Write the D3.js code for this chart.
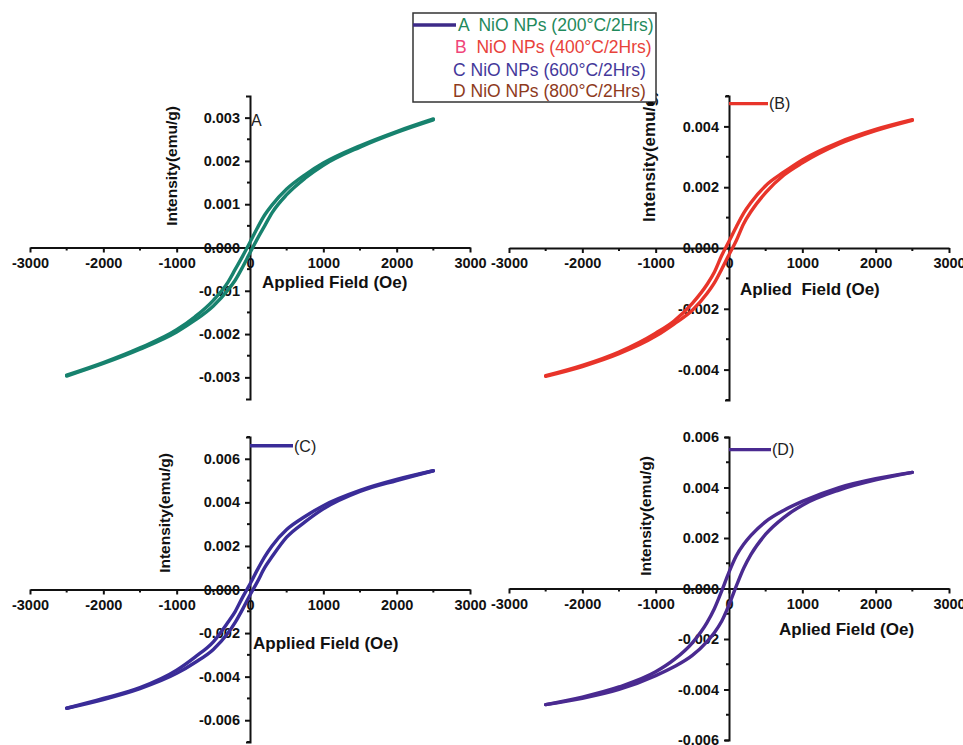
<!DOCTYPE html>
<html lang="en">
  <head>
    <meta charset="utf-8" />
    <title>NiO NPs hysteresis loops</title>
    <script src="https://d3js.org/d3.v7.min.js"></script>
    <style>
      body { margin: 0; background: #fff; }
      svg { display: block; font-family: Arial, "Liberation Sans", sans-serif; }
      .tick text { font-weight: bold; font-size: 14.5px; fill: #111; }
      .axis path, .axis line { stroke: #111; stroke-width: 2; }
      .title { font-weight: bold; font-size: 17px; fill: #111; }
      .ytitle { font-weight: bold; font-size: 15.5px; fill: #111; }
    </style>
  </head>
  <body>
    <div id="chart"></div>
    <script>
      // applied field (Oe), same grid for every sample
      const fieldOe = [-2500, -2000, -1500, -1000, -750, -500, -300, -200, -100, 0,
        100, 200, 300, 500, 750, 1000, 1500, 2000, 2500];

      // magnetisation (emu/g): upper = descending branch, lower = ascending branch
      const upperA = [-0.00295, -0.00266, -0.00232, -0.0019, -0.0016, -0.00122, -0.0008, -0.0005, -0.0002, 0.00012,
        0.00045, 0.00075, 0.00098, 0.00135, 0.00168, 0.00195, 0.00235, 0.00268, 0.00297];
      const lowerA = [-0.00297, -0.00268, -0.00235, -0.00195, -0.00168, -0.00135, -0.00098, -0.00075, -0.00045, -0.00012,
        0.0002, 0.0005, 0.0008, 0.00122, 0.0016, 0.0019, 0.00232, 0.00266, 0.00295];

      const upperB = [-0.0042, -0.00386, -0.00342, -0.0028, -0.0024, -0.00182, -0.0012, -0.0008, -0.00025, 0.00022,
        0.0007, 0.00115, 0.0015, 0.00205, 0.0025, 0.0029, 0.00348, 0.0039, 0.00422];
      const lowerB = [-0.00422, -0.0039, -0.00348, -0.0029, -0.0025, -0.00205, -0.0015, -0.00115, -0.0007, -0.00022,
        0.00025, 0.0008, 0.0012, 0.00182, 0.0024, 0.0028, 0.00342, 0.00386, 0.0042];

      const upperC = [-0.00545, -0.005, -0.0045, -0.0037, -0.0031, -0.0024, -0.0015, -0.001, -0.00035, 0.00025,
        0.0009, 0.0015, 0.002, 0.00275, 0.00335, 0.00385, 0.00455, 0.00505, 0.00545];
      const lowerC = [-0.00545, -0.00505, -0.00455, -0.00385, -0.00335, -0.00275, -0.002, -0.0015, -0.0009, -0.00025,
        0.00035, 0.001, 0.0015, 0.0024, 0.0031, 0.0037, 0.0045, 0.005, 0.00545];

      const upperD = [-0.0046, -0.0043, -0.0039, -0.0033, -0.00282, -0.00215, -0.00135, -0.0008, -0.0001, 0.00065,
        0.0013, 0.00175, 0.0021, 0.00265, 0.0031, 0.00345, 0.004, 0.00435, 0.0046];
      const lowerD = [-0.0046, -0.00435, -0.004, -0.00345, -0.0031, -0.00265, -0.0021, -0.00175, -0.0013, -0.00065,
        0.0001, 0.0008, 0.00135, 0.00215, 0.00282, 0.0033, 0.0039, 0.0043, 0.0046];

      // axis ticks
      const xTicks = [-3000, -2000, -1000, 0, 1000, 2000, 3000];
      const xMinor = [-2500, -1500, -500, 500, 1500, 2500];
      const yTicksA = [-0.003, -0.002, -0.001, 0, 0.001, 0.002, 0.003];
      const yMinorA = [-0.0025, -0.0015, -0.0005, 0.0005, 0.0015, 0.0025];
      const yTicksB = [-0.004, -0.002, 0, 0.002, 0.004];
      const yMinorB = [-0.005, -0.003, -0.001, 0.001, 0.003, 0.005];
      const yTicksC = [-0.006, -0.004, -0.002, 0, 0.002, 0.004, 0.006];
      const yMinorC = [-0.007, -0.005, -0.003, -0.001, 0.001, 0.003, 0.005, 0.007];
      const yTicksD = [-0.006, -0.004, -0.002, 0, 0.002, 0.004, 0.006];
      const yMinorD = [-0.005, -0.003, -0.001, 0.001, 0.003, 0.005];

      const legendItems = [
        { key: "A", rest: "  NiO NPs (200\u00B0C/2Hrs)", keyColor: "#1f8a5c", color: "#1f8a5c" },
        { key: "B", rest: "  NiO NPs (400\u00B0C/2Hrs)", keyColor: "#f0457a", color: "#e8423a" },
        { key: "C", rest: " NiO NPs (600\u00B0C/2Hrs)", keyColor: "#44389a", color: "#44389a" },
        { key: "D", rest: " NiO NPs (800\u00B0C/2Hrs)", keyColor: "#8e3a1c", color: "#8e3a1c" }
      ];

      const W = 963, H = 745;
      const svg = d3.select("#chart").append("svg")
        .attr("width", W).attr("height", H);

      svg.append("defs").append("clipPath").attr("id", "clipB")
        .append("rect").attr("x", 480).attr("y", 92).attr("width", 483).attr("height", 400);

      const panels = [
        { upper: upperA, lower: lowerA, color: "#17826e", xr: [30, 470], ymax: 0.0035, yr: [399, 96],
          ticks: yTicksA, minor: yMinorA, xt: "Applied Field (Oe)", xtPos: [262, 288],
          ytPos: [177, 166], tag: "A", tagPos: [251, 126], sample: null },
        { upper: upperB, lower: lowerB, color: "#e8342a", xr: [509, 949], ymax: 0.005, yr: [400, 96],
          ticks: yTicksB, minor: yMinorB, xt: "Aplied  Field (Oe)", xtPos: [740, 295],
          ytPos: [655, null], ytBottom: 222, tag: "(B)", tagPos: [768, 109], sample: 0.00475, clip: "clipB" },
        { upper: upperC, lower: lowerC, color: "#3a2c98", xr: [30, 470], ymax: 0.007, yr: [742, 437],
          ticks: yTicksC, minor: yMinorC, xt: "Applied Field (Oe)", xtPos: [253, 649],
          ytPos: [170, 513], tag: "(C)", tagPos: [293, 452], sample: 0.0066 },
        { upper: upperD, lower: lowerD, color: "#4a2a90", xr: [509, 949], ymax: 0.006, yr: [740, 437],
          ticks: yTicksD, minor: yMinorD, xt: "Aplied Field (Oe)", xtPos: [779, 635],
          ytPos: [651, 516], tag: "(D)", tagPos: [771, 455], sample: 0.0055 }
      ];

      const yFmt = d => (Math.abs(d) < 1e-12 ? 0 : d).toFixed(3);

      panels.forEach(p => {
        const g = svg.append("g");
        if (p.clip) g.attr("clip-path", `url(#${p.clip})`);

        const x = d3.scaleLinear().domain([-3000, 3000]).range(p.xr);
        const y = d3.scaleLinear().domain([-p.ymax, p.ymax]).range(p.yr);

        // x axis through y = 0
        const gx = g.append("g").attr("class", "axis")
          .attr("transform", `translate(0,${y(0)})`);
        gx.call(d3.axisBottom(x).tickValues(xTicks).tickSize(5).tickSizeOuter(0)
          .tickPadding(5).tickFormat(d => String(d)));
        gx.append("g").selectAll("line").data(xMinor).join("line")
          .attr("x1", d => x(d)).attr("x2", d => x(d)).attr("y1", 0).attr("y2", 3)
          .attr("stroke", "#111").attr("stroke-width", 2);

        // y axis through x = 0
        const gy = g.append("g").attr("class", "axis")
          .attr("transform", `translate(${x(0)},0)`);
        gy.call(d3.axisLeft(y).tickValues(p.ticks).tickSize(5).tickSizeOuter(4)
          .tickPadding(5).tickFormat(yFmt));
        gy.append("g").selectAll("line").data(p.minor).join("line")
          .attr("x1", 0).attr("x2", -3).attr("y1", d => y(d)).attr("y2", d => y(d))
          .attr("stroke", "#111").attr("stroke-width", 2);

        // hysteresis loop
        const line = d3.line().x((d, i) => x(fieldOe[i])).y(d => y(d)).curve(d3.curveMonotoneX);
        g.selectAll("path.branch").data([p.upper, p.lower]).join("path")
          .attr("class", "branch")
          .attr("d", line)
          .attr("fill", "none")
          .attr("stroke", p.color)
          .attr("stroke-width", 3.4)
          .attr("stroke-linecap", "round");

        // titles
        g.append("text").attr("class", "title")
          .attr("x", p.xtPos[0]).attr("y", p.xtPos[1])
          .style("white-space", "pre")
          .text(p.xt);

        const yt = g.append("text").attr("class", "ytitle");
        if (p.ytBottom) {
          yt.attr("transform", `translate(${p.ytPos[0]},${p.ytBottom}) rotate(-90)`)
            .attr("text-anchor", "start").style("font-size", "17px");
        } else {
          yt.attr("transform", `translate(${p.ytPos[0]},${p.ytPos[1]}) rotate(-90)`)
            .attr("text-anchor", "middle");
        }
        yt.text("Intensity(emu/g)");

        // in-panel legend sample
        if (p.sample !== null) {
          g.append("line")
            .attr("x1", x(0)).attr("x2", p.tagPos[0])
            .attr("y1", y(p.sample)).attr("y2", y(p.sample))
            .attr("stroke", p.color).attr("stroke-width", 3.4);
        }
        g.append("text")
          .attr("x", p.tagPos[0] + (p.sample !== null ? 1 : 0)).attr("y", p.tagPos[1])
          .attr("font-size", 16).attr("fill", "#222")
          .text(p.tag);
      });

      // top legend box
      const lg = svg.append("g");
      lg.append("rect")
        .attr("x", 413).attr("y", 13).attr("width", 243).attr("height", 89)
        .attr("fill", "#fff").attr("stroke", "#333").attr("stroke-width", 1.5);
      lg.append("line")
        .attr("x1", 413).attr("x2", 456).attr("y1", 25).attr("y2", 25)
        .attr("stroke", "#3d2a88").attr("stroke-width", 3.4);
      lg.append("rect").attr("x", 648).attr("y", 102).attr("width", 5).attr("height", 3).attr("fill", "#111");

      const rowY = [31, 53, 76, 97];
      const rowX = [458, 455, 453, 453];
      legendItems.forEach((d, i) => {
        const t = lg.append("text")
          .attr("x", rowX[i]).attr("y", rowY[i])
          .attr("font-size", 17.5)
          .style("white-space", "pre");
        t.append("tspan").attr("fill", d.keyColor).text(d.key);
        t.append("tspan").attr("fill", d.color).text(d.rest);
      });
    </script>
  </body>
</html>
